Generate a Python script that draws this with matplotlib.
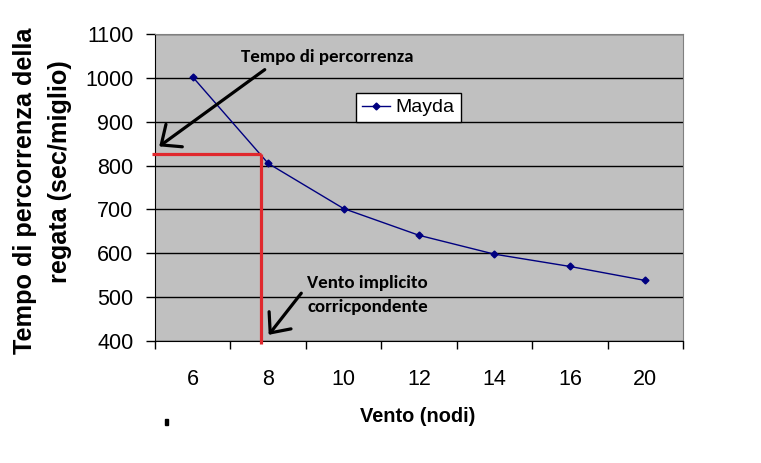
import numpy as np
import matplotlib
matplotlib.use('Agg')
import matplotlib.pyplot as plt
from matplotlib.patches import Rectangle

# data
vento = ['6', '8', '10', '12', '14', '16', '20']
tempo = [1002, 805, 702, 641, 598, 570, 538]
serie = 'Mayda'

# implied reading drawn in red
tempo_percorrenza = 827
vento_implicito = 0.906   # category position (just left of "8")

W, H = 761, 463
fig = plt.figure(figsize=(W / 100, H / 100), dpi=100)
ax = fig.add_axes([155 / W, 1 - 341 / H, (683 - 155) / W, (341 - 34) / H])

arial = ['Liberation Sans', 'DejaVu Sans']
calibri = ['Carlito', 'DejaVu Sans']

ax.set_facecolor('#C0C0C0')
x = np.arange(len(vento))
ax.plot(x, tempo, color='#000080', lw=1, marker='D', ms=3.5, label=serie, zorder=3)

ax.set_xlim(-0.5, len(vento) - 0.5)
ax.set_ylim(400, 1100)
ax.set_yticks(np.arange(400, 1101, 100))
ax.yaxis.grid(True, color='black', lw=1)
ax.set_axisbelow(True)

ax.set_xticks(x)
ax.set_xticklabels(vento, family=arial, fontsize=15.5)
ax.set_xticks(np.arange(-0.5, len(vento)), minor=True)
ax.tick_params(axis='x', which='major', length=0, pad=20)
ax.tick_params(axis='x', which='minor', length=6, width=1, direction='out')
ax.tick_params(axis='y', length=6.5, width=1, pad=9, labelsize=15.5)
for lab in ax.get_yticklabels():
    lab.set_family(arial)

ax.spines['left'].set_color('black')
ax.spines['bottom'].set_color('black')
ax.spines['top'].set_color('#808080')
ax.spines['right'].set_color('#808080')

# red guide lines
ax.plot([-0.54, vento_implicito], [tempo_percorrenza, tempo_percorrenza],
        color='#E0282D', lw=2.3, clip_on=False, zorder=4, solid_capstyle='butt')
ax.plot([vento_implicito, vento_implicito], [tempo_percorrenza, 393],
        color='#E0282D', lw=2.3, clip_on=False, zorder=4, solid_capstyle='butt')

# annotations (figure pixel coords, image y flipped)
def px(xp, yp):
    return (xp, H - yp)

arrow = dict(arrowstyle='->,head_length=1.15,head_width=1.0', color='black', lw=2.3)
ax.annotate('', xy=px(157, 148), xycoords='figure pixels',
            xytext=px(267, 68), textcoords='figure pixels', arrowprops=arrow)
ax.annotate('', xy=px(267, 337), xycoords='figure pixels',
            xytext=px(303, 291), textcoords='figure pixels', arrowprops=arrow)

fig.text(327 / W, 1 - 57 / H, 'Tempo di percorrenza', family=calibri, fontweight='bold',
         fontsize=13.6, ha='center', va='center')
fig.text(307 / W, 1 - 295 / H, 'Vento implicito\ncorricpondente', family=calibri,
         fontweight='bold', fontsize=13.6, ha='left', va='center', linespacing=1.55)

leg = ax.legend(loc='upper left', bbox_to_anchor=(356 / W, 1 - 93 / H),
                bbox_transform=fig.transFigure, frameon=True, fancybox=False,
                prop={'family': arial, 'size': 14}, handlelength=1.45,
                borderpad=0.3, handletextpad=0.3, borderaxespad=0)
leg.get_frame().set_edgecolor('black')
leg.get_frame().set_linewidth(1)
leg.get_frame().set_alpha(1)

# y axis title, two lines placed separately as in the reference
fig.text(25 / W, 1 - 191 / H, 'Tempo di percorrenza della', family=arial,
         fontweight='bold', fontsize=18.2, rotation=90, ha='center', va='center')
fig.text(60 / W, 1 - 172 / H, 'regata (sec/miglio)', family=arial,
         fontweight='bold', fontsize=18.2, rotation=90, ha='center', va='center')
fig.text(418 / W, 1 - 417 / H, 'Vento (nodi)', family=arial, fontweight='bold',
         fontsize=14.4, ha='center', va='center')

# stray little mark under the axis in the original
fig.patches.append(Rectangle((165 / W, 1 - 425 / H), 2.5 / W, 6 / H,
                             transform=fig.transFigure, color='black'))

fig.savefig('out.png', dpi=100)
